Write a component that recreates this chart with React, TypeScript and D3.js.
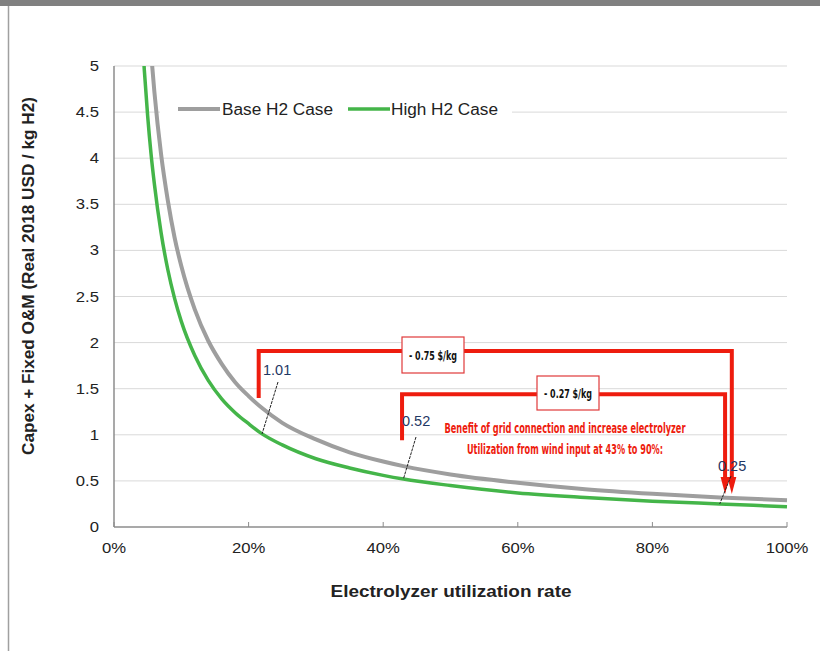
import React from "react";
import * as d3 from "d3";

const utilization = [0.04, 0.045, 0.05, 0.055, 0.06, 0.07, 0.08, 0.09, 0.10, 0.12, 0.14, 0.16, 0.18, 0.20, 0.22, 0.25, 0.30, 0.35, 0.40, 0.43, 0.50, 0.60, 0.70, 0.80, 0.90, 1.00];
const baseH2 = [7.08, 6.29, 5.66, 5.15, 4.72, 4.04, 3.54, 3.14, 2.83, 2.36, 2.02, 1.77, 1.57, 1.42, 1.29, 1.13, 0.95, 0.81, 0.71, 0.66, 0.57, 0.48, 0.41, 0.36, 0.32, 0.29];
const highH2 = [5.58, 4.96, 4.46, 4.05, 3.72, 3.19, 2.79, 2.48, 2.23, 1.86, 1.59, 1.39, 1.24, 1.12, 1.01, 0.89, 0.74, 0.64, 0.56, 0.52, 0.45, 0.37, 0.32, 0.28, 0.25, 0.22];

const yTicks = [0, 0.5, 1, 1.5, 2, 2.5, 3, 3.5, 4, 4.5, 5];
const xTicks = [0, 0.2, 0.4, 0.6, 0.8, 1.0];
const seriesNames = ["Base H2 Case", "High H2 Case"];

const pointLabelU = [0.22, 0.43, 0.9];
const pointLabelV = [1.01, 0.52, 0.25];

const bracketLabels = ["- 0.75 $/kg", "- 0.27 $/kg"];
const bracketFromU = [0.215, 0.428];
const bracketToU = [0.918, 0.908];
const bracketLevel = [1.91, 1.44];
const bracketStart = [1.40, 0.94];
const arrowEnd = 0.38;

const noteLines = [
  "Benefit of grid connection and increase electrolyzer",
  "Utilization from wind input at 43% to 90%:",
];

const W = 820;
const H = 651;
const M = { left: 114, right: 787, top: 66, bottom: 527 };

export default function App() {
  const x = d3.scaleLinear().domain([0, 1]).range([M.left, M.right]);
  const y = d3.scaleLinear().domain([0, 5]).range([M.bottom, M.top]);
  const line = d3
    .line<number>()
    .x((_, i) => x(utilization[i]))
    .y((d) => y(d))
    .curve(d3.curveMonotoneX);
  const font = "'Liberation Sans', Arial, sans-serif";
  const narrow = "'Liberation Sans Narrow', 'DejaVu Sans Condensed', Arial, sans-serif";
  const red = "#ee1c0e";

  const labelOffsets = [
    { tx: 263, ty: 375, lx1: 278, ly1: 382 },
    { tx: 402, ty: 426, lx1: 416, ly1: 437 },
    { tx: 718, ty: 471, lx1: 731, ly1: 476 },
  ];
  const boxes = [
    { x: 402, y: 337, w: 62, h: 36 },
    { x: 537, y: 376, w: 62, h: 34 },
  ];

  return (
    <div style={{ position: "absolute", left: 0, top: 0, width: W, height: H }}>
      <svg width={W} height={H} style={{ display: "block", background: "#fff" }}>
        <defs>
          <clipPath id="plotclip">
            <rect x={M.left} y={M.top} width={M.right - M.left + 4} height={M.bottom - M.top} />
          </clipPath>
        </defs>
        <rect x={0} y={0} width={W} height={6} fill="#808080" />
        <line x1={8.5} y1={6} x2={8.5} y2={H} stroke="#a0a0a0" strokeWidth={1.5} />

        {/* grid */}
        {yTicks.map((t) =>
          t === 0 ? null : (
            <line key={t} x1={M.left} x2={M.right} y1={y(t)} y2={y(t)} stroke="#d9d9d9" strokeWidth={1} />
          )
        )}
        {/* axes */}
        <line x1={M.left} x2={M.left} y1={M.top} y2={M.bottom} stroke="#8c8c8c" strokeWidth={1.5} />
        <line x1={M.left} x2={M.right} y1={M.bottom} y2={M.bottom} stroke="#8c8c8c" strokeWidth={1.5} />
        {xTicks.map((t) => (
          <line key={t} x1={x(t)} x2={x(t)} y1={M.bottom} y2={M.bottom - 5} stroke="#8c8c8c" strokeWidth={1} />
        ))}
        {yTicks.map((t) => (
          <text
            key={t}
            transform={`translate(99,${y(t) + 5}) scale(1.15,1)`}
            textAnchor="end"
            fontFamily={font}
            fontSize={14.5}
            fill="#222"
          >
            {String(t)}
          </text>
        ))}
        {xTicks.map((t) => (
          <text
            key={t}
            transform={`translate(${x(t)},553) scale(1.15,1)`}
            textAnchor="middle"
            fontFamily={font}
            fontSize={14.5}
            fill="#222"
          >
            {d3.format(".0%")(t)}
          </text>
        ))}
        <text
          x={451}
          y={597}
          textAnchor="middle"
          fontFamily={font}
          fontSize={17}
          fontWeight="bold"
          fill="#222"
          textLength={241}
          lengthAdjust="spacingAndGlyphs"
        >
          Electrolyzer utilization rate
        </text>
        <text
          transform={`translate(34,276) rotate(-90)`}
          textAnchor="middle"
          fontFamily={font}
          fontSize={16}
          fontWeight="bold"
          fill="#222"
          textLength={358}
          lengthAdjust="spacingAndGlyphs"
        >
          Capex + Fixed O&amp;M (Real 2018 USD / kg H2)
        </text>

        {/* legend */}
        <rect x={160} y={100} width={352} height={20} fill="#fff" />
        <line x1={178} x2={220} y1={109} y2={109} stroke="#9e9e9e" strokeWidth={4} />
        <text x={222} y={115} fontFamily={font} fontSize={16} fill="#222" textLength={111} lengthAdjust="spacingAndGlyphs">
          {seriesNames[0]}
        </text>
        <line x1={348} x2={390} y1={109} y2={109} stroke="#44b549" strokeWidth={3.5} />
        <text x={391} y={115} fontFamily={font} fontSize={16} fill="#222" textLength={107} lengthAdjust="spacingAndGlyphs">
          {seriesNames[1]}
        </text>

        {/* curves */}
        <g clipPath="url(#plotclip)">
          <path d={line(baseH2) || ""} fill="none" stroke="#9e9e9e" strokeWidth={4} />
          <path d={line(highH2) || ""} fill="none" stroke="#44b549" strokeWidth={3.5} />
        </g>

        {/* brackets */}
        {bracketLabels.map((lab, i) => {
          const x0 = x(bracketFromU[i]);
          const x1 = x(bracketToU[i]);
          const yl = y(bracketLevel[i]);
          const ys = y(bracketStart[i]);
          const ye = y(arrowEnd);
          const b = boxes[i];
          return (
            <g key={lab}>
              <path
                d={`M${x0},${ys} L${x0},${yl} L${x1},${yl} L${x1},${ye - 12}`}
                fill="none"
                stroke={red}
                strokeWidth={4}
                strokeLinejoin="miter"
              />
              <path d={`M${x1 - 4.5},${ye - 15} L${x1 + 4.5},${ye - 15} L${x1},${ye + 2} Z`} fill={red} />
              <rect x={b.x} y={b.y} width={b.w} height={b.h} fill="#fff" stroke="#e0393a" strokeWidth={1.2} />
              <text
                x={b.x + b.w / 2}
                y={b.y + b.h / 2 + 5}
                textAnchor="middle"
                fontFamily={narrow}
                fontSize={13}
                fontWeight="bold"
                fill="#111"
                textLength={b.w - 14}
                lengthAdjust="spacingAndGlyphs"
              >
                {lab}
              </text>
            </g>
          );
        })}

        {/* red note */}
        {noteLines.map((t, i) => (
          <text
            key={i}
            x={565}
            y={433 + i * 21}
            textAnchor="middle"
            fontFamily={narrow}
            fontSize={13.5}
            fontWeight="bold"
            fill={red}
            textLength={i === 0 ? 241 : 196}
            lengthAdjust="spacingAndGlyphs"
          >
            {t}
          </text>
        ))}

        {/* point labels */}
        {pointLabelV.map((v, i) => {
          const o = labelOffsets[i];
          return (
            <g key={i}>
              <line x1={o.lx1} y1={o.ly1} x2={x(pointLabelU[i])} y2={y(v)} stroke="#222" strokeWidth={1} strokeDasharray="3,1" />
              <text x={o.tx} y={o.ty} fontFamily={font} fontSize={14.5} fill="#1f3864">
                {v.toFixed(2)}
              </text>
            </g>
          );
        })}
      </svg>
    </div>
  );
}
